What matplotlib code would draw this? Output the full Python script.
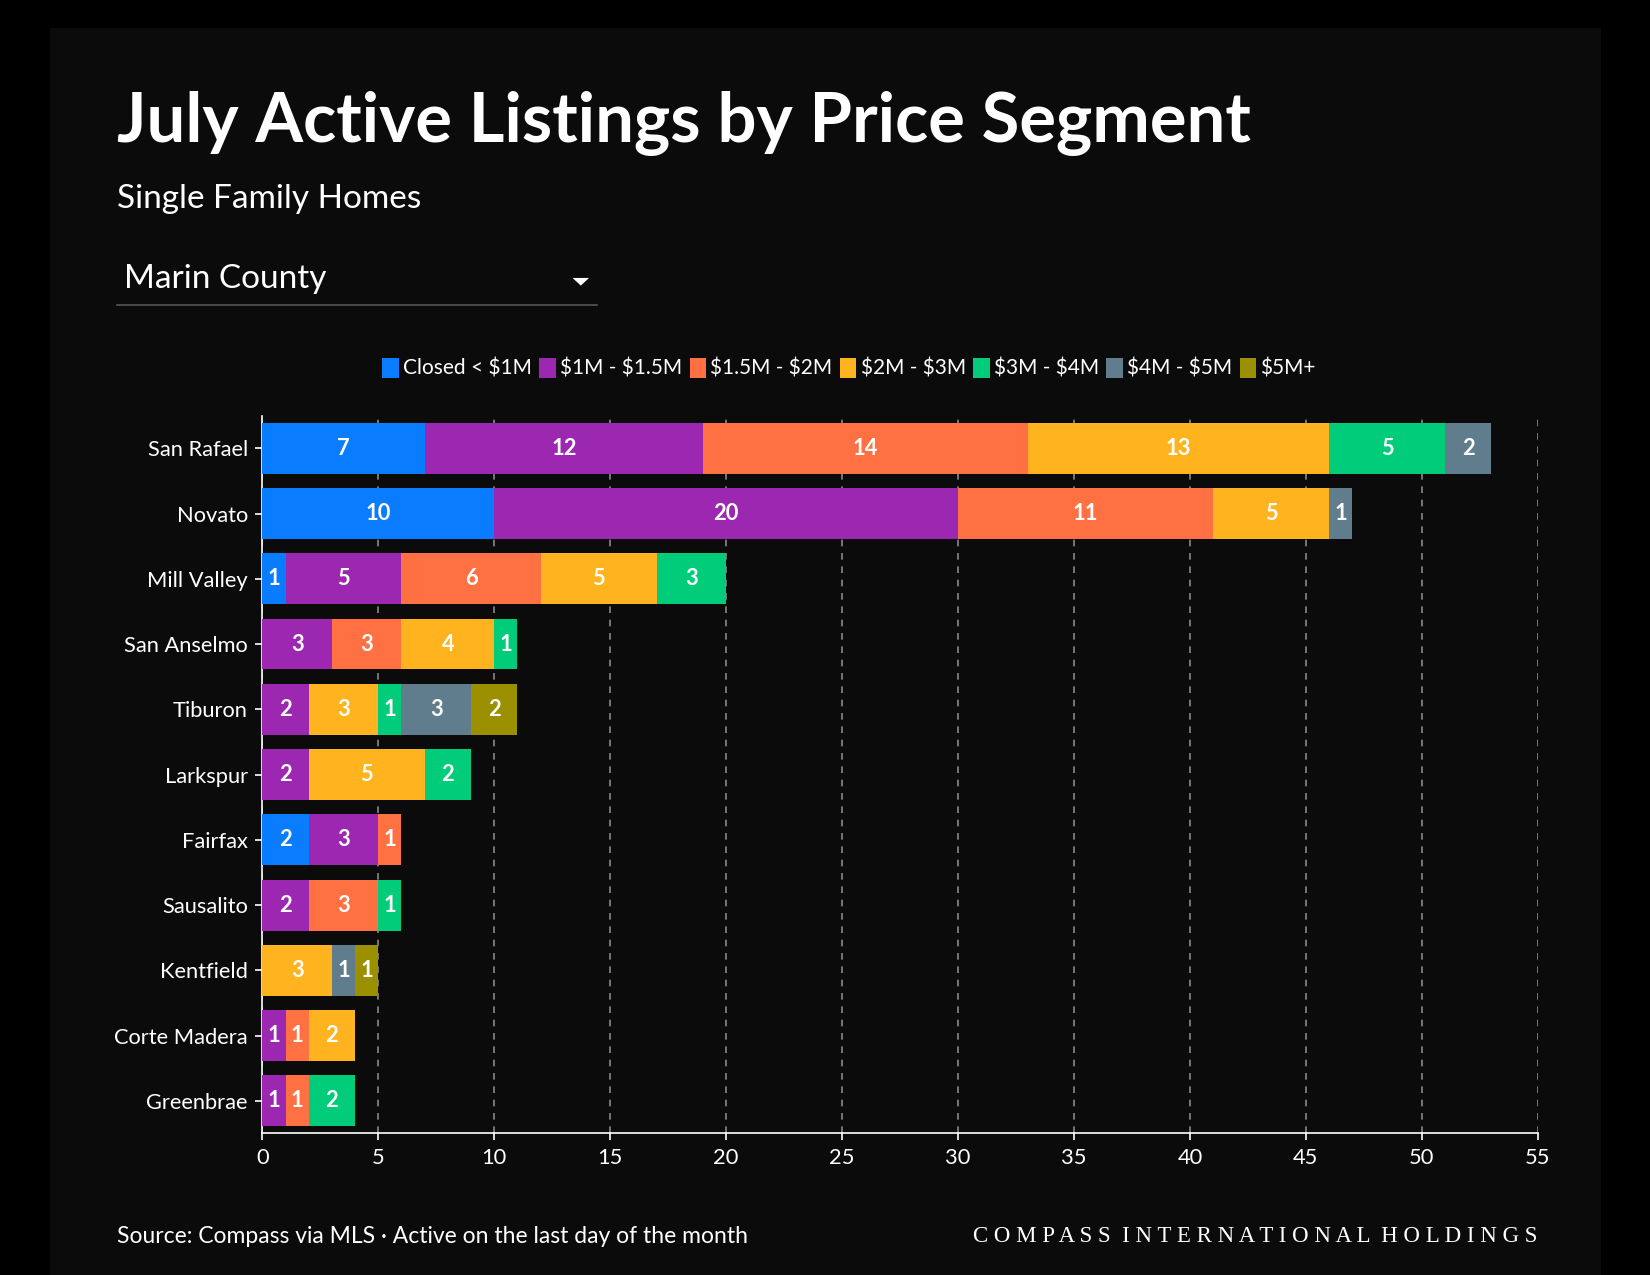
import matplotlib
matplotlib.use("Agg")
import matplotlib.pyplot as plt
from matplotlib.patches import Rectangle, Polygon
import numpy as np

CITIES = ["San Rafael", "Novato", "Mill Valley", "San Anselmo", "Tiburon", "Larkspur",
          "Fairfax", "Sausalito", "Kentfield", "Corte Madera", "Greenbrae"]
SEGMENTS = ["Closed < $1M", "$1M - $1.5M", "$1.5M - $2M", "$2M - $3M", "$3M - $4M", "$4M - $5M", "$5M+"]
COLORS = ["#0a7cff", "#9c27b0", "#ff7043", "#ffb31f", "#00cc7a", "#5f7d8c", "#9a9000"]

under_1m = [7, 10, 1, 0, 0, 0, 2, 0, 0, 0, 0]
m1_15 = [12, 20, 5, 3, 2, 2, 3, 2, 0, 1, 1]
m15_2 = [14, 11, 6, 3, 0, 0, 1, 3, 0, 1, 1]
m2_3 = [13, 5, 5, 4, 3, 5, 0, 0, 3, 2, 0]
m3_4 = [5, 0, 3, 1, 1, 2, 0, 1, 0, 0, 2]
m4_5 = [2, 1, 0, 0, 3, 0, 0, 0, 1, 0, 0]
m5_plus = [0, 0, 0, 0, 2, 0, 0, 0, 1, 0, 0]
SERIES = [under_1m, m1_15, m15_2, m2_3, m3_4, m4_5, m5_plus]

FONT = ["Lato", "DejaVu Sans"]
plt.rcParams["font.family"] = FONT
plt.rcParams["text.parse_math"] = False

fig = plt.figure(figsize=(11, 8.5), dpi=150)
fig.patch.set_facecolor("black")
fig.add_artist(Rectangle((0.03, 0.0), 0.94, 0.978, transform=fig.transFigure,
                         facecolor="#0b0b0b", edgecolor="none", zorder=0))

fig.text(0.071, 0.903, "July Active Listings by Price Segment", color="white",
         fontsize=33, fontweight="bold", va="center")
fig.text(0.071, 0.844, "Single Family Homes", color="white", fontsize=16, va="center")
fig.text(0.075, 0.781, "Marin County", color="white", fontsize=16, va="center")
fig.add_artist(plt.Line2D([0.071, 0.362], [0.761, 0.761], color="#555555", lw=0.8,
                          transform=fig.transFigure))
fig.add_artist(Polygon([[0.347, 0.782], [0.357, 0.782], [0.352, 0.776]], closed=True,
                       transform=fig.transFigure, facecolor="white", edgecolor="none"))

ax = fig.add_axes([0.159, 0.111, 0.773, 0.563])
ax.set_facecolor("#0b0b0b")
y = np.arange(len(CITIES))
left = np.zeros(len(CITIES))
for name, vals, col in zip(SEGMENTS, SERIES, COLORS):
    vals = np.array(vals, dtype=float)
    ax.barh(y, vals, left=left, height=0.78, color=col, label=name, zorder=3)
    for yi, l, v in zip(y, left, vals):
        if v > 0:
            ax.text(l + v / 2, yi, f"{int(v)}", color="white", ha="center", va="center",
                    fontsize=10.5, fontweight="bold", zorder=4)
    left += vals

ax.set_xlim(0, 55)
ax.set_ylim(len(CITIES) - 0.5, -0.5)
ax.set_xticks(range(0, 56, 5))
ax.set_yticks(y)
ax.set_yticklabels(CITIES)
ax.tick_params(colors="white", labelsize=10.5)
ax.xaxis.grid(True, color="#888888", linestyle=(0, (4, 4)), lw=0.8, zorder=0)
for s in ["top", "right"]:
    ax.spines[s].set_visible(False)
for s in ["left", "bottom"]:
    ax.spines[s].set_color("white")

leg = ax.legend(loc="lower center", bbox_to_anchor=(0.46, 1.025), ncol=7, frameon=False,
                fontsize=10, handlelength=0.8, handleheight=1.1, handletextpad=0.2,
                columnspacing=0.35, labelcolor="white")

fig.text(0.071, 0.030, "Source: Compass via MLS · Active on the last day of the month",
         color="white", fontsize=11, va="center")
fig.text(0.932, 0.030, "C O M P A S S  I N T E R N A T I O N A L  H O L D I N G S",
         color="white", fontsize=11, family=["Liberation Serif", "DejaVu Serif"],
         ha="right", va="center")

fig.savefig("out.png", facecolor=fig.get_facecolor())
